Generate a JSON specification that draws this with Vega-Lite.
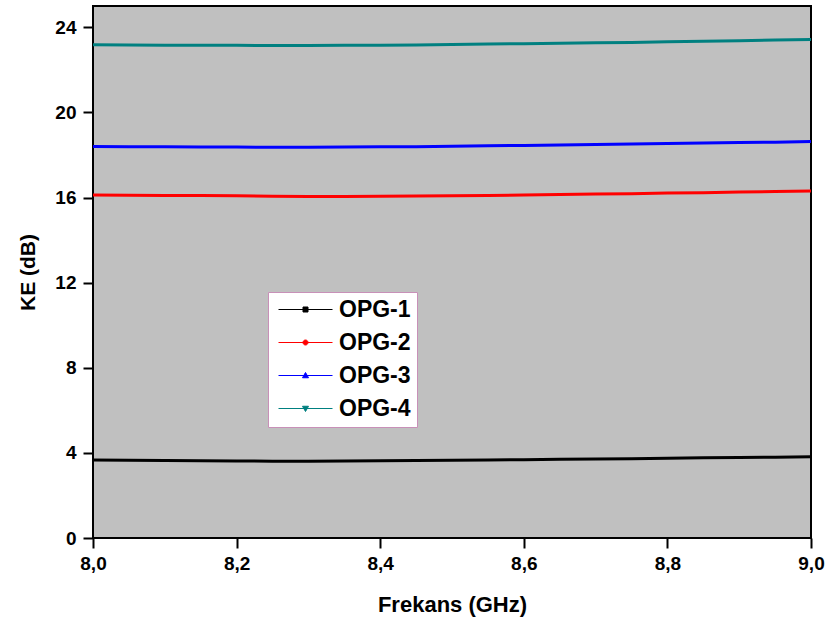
{
  "$schema": "https://vega.github.io/schema/vega-lite/v6.json",
  "width": 718,
  "height": 532,
  "autosize": "none",
  "padding": {"left": 93, "top": 6, "right": 16, "bottom": 88},
  "background": "white",
  "config": {
    "view": {"fill": "#C0C0C0", "stroke": "black", "strokeWidth": 2},
    "font": "Liberation Sans"
  },
  "datasets": {
    "d": [
      {"f": 8.00, "ke": 3.66, "s": "OPG-1"}, {"f": 8.05, "ke": 3.65, "s": "OPG-1"}, {"f": 8.10, "ke": 3.64, "s": "OPG-1"}, {"f": 8.15, "ke": 3.63, "s": "OPG-1"}, {"f": 8.20, "ke": 3.62, "s": "OPG-1"}, {"f": 8.25, "ke": 3.61, "s": "OPG-1"}, {"f": 8.30, "ke": 3.61, "s": "OPG-1"}, {"f": 8.35, "ke": 3.62, "s": "OPG-1"}, {"f": 8.40, "ke": 3.63, "s": "OPG-1"}, {"f": 8.45, "ke": 3.64, "s": "OPG-1"}, {"f": 8.50, "ke": 3.65, "s": "OPG-1"}, {"f": 8.55, "ke": 3.67, "s": "OPG-1"}, {"f": 8.60, "ke": 3.68, "s": "OPG-1"}, {"f": 8.65, "ke": 3.70, "s": "OPG-1"}, {"f": 8.70, "ke": 3.71, "s": "OPG-1"}, {"f": 8.75, "ke": 3.73, "s": "OPG-1"}, {"f": 8.80, "ke": 3.75, "s": "OPG-1"}, {"f": 8.85, "ke": 3.77, "s": "OPG-1"}, {"f": 8.90, "ke": 3.78, "s": "OPG-1"}, {"f": 8.95, "ke": 3.80, "s": "OPG-1"}, {"f": 9.00, "ke": 3.82, "s": "OPG-1"},
      {"f": 8.00, "ke": 16.12, "s": "OPG-2"}, {"f": 8.05, "ke": 16.11, "s": "OPG-2"}, {"f": 8.10, "ke": 16.10, "s": "OPG-2"}, {"f": 8.15, "ke": 16.09, "s": "OPG-2"}, {"f": 8.20, "ke": 16.08, "s": "OPG-2"}, {"f": 8.25, "ke": 16.06, "s": "OPG-2"}, {"f": 8.30, "ke": 16.05, "s": "OPG-2"}, {"f": 8.35, "ke": 16.05, "s": "OPG-2"}, {"f": 8.40, "ke": 16.06, "s": "OPG-2"}, {"f": 8.45, "ke": 16.07, "s": "OPG-2"}, {"f": 8.50, "ke": 16.08, "s": "OPG-2"}, {"f": 8.55, "ke": 16.10, "s": "OPG-2"}, {"f": 8.60, "ke": 16.12, "s": "OPG-2"}, {"f": 8.65, "ke": 16.14, "s": "OPG-2"}, {"f": 8.70, "ke": 16.16, "s": "OPG-2"}, {"f": 8.75, "ke": 16.18, "s": "OPG-2"}, {"f": 8.80, "ke": 16.21, "s": "OPG-2"}, {"f": 8.85, "ke": 16.23, "s": "OPG-2"}, {"f": 8.90, "ke": 16.26, "s": "OPG-2"}, {"f": 8.95, "ke": 16.28, "s": "OPG-2"}, {"f": 9.00, "ke": 16.31, "s": "OPG-2"},
      {"f": 8.00, "ke": 18.40, "s": "OPG-3"}, {"f": 8.05, "ke": 18.39, "s": "OPG-3"}, {"f": 8.10, "ke": 18.38, "s": "OPG-3"}, {"f": 8.15, "ke": 18.37, "s": "OPG-3"}, {"f": 8.20, "ke": 18.37, "s": "OPG-3"}, {"f": 8.25, "ke": 18.36, "s": "OPG-3"}, {"f": 8.30, "ke": 18.36, "s": "OPG-3"}, {"f": 8.35, "ke": 18.37, "s": "OPG-3"}, {"f": 8.40, "ke": 18.38, "s": "OPG-3"}, {"f": 8.45, "ke": 18.39, "s": "OPG-3"}, {"f": 8.50, "ke": 18.41, "s": "OPG-3"}, {"f": 8.55, "ke": 18.43, "s": "OPG-3"}, {"f": 8.60, "ke": 18.45, "s": "OPG-3"}, {"f": 8.65, "ke": 18.47, "s": "OPG-3"}, {"f": 8.70, "ke": 18.49, "s": "OPG-3"}, {"f": 8.75, "ke": 18.51, "s": "OPG-3"}, {"f": 8.80, "ke": 18.54, "s": "OPG-3"}, {"f": 8.85, "ke": 18.56, "s": "OPG-3"}, {"f": 8.90, "ke": 18.58, "s": "OPG-3"}, {"f": 8.95, "ke": 18.60, "s": "OPG-3"}, {"f": 9.00, "ke": 18.63, "s": "OPG-3"},
      {"f": 8.00, "ke": 23.18, "s": "OPG-4"}, {"f": 8.05, "ke": 23.17, "s": "OPG-4"}, {"f": 8.10, "ke": 23.16, "s": "OPG-4"}, {"f": 8.15, "ke": 23.15, "s": "OPG-4"}, {"f": 8.20, "ke": 23.15, "s": "OPG-4"}, {"f": 8.25, "ke": 23.14, "s": "OPG-4"}, {"f": 8.30, "ke": 23.14, "s": "OPG-4"}, {"f": 8.35, "ke": 23.15, "s": "OPG-4"}, {"f": 8.40, "ke": 23.16, "s": "OPG-4"}, {"f": 8.45, "ke": 23.17, "s": "OPG-4"}, {"f": 8.50, "ke": 23.19, "s": "OPG-4"}, {"f": 8.55, "ke": 23.21, "s": "OPG-4"}, {"f": 8.60, "ke": 23.23, "s": "OPG-4"}, {"f": 8.65, "ke": 23.25, "s": "OPG-4"}, {"f": 8.70, "ke": 23.27, "s": "OPG-4"}, {"f": 8.75, "ke": 23.29, "s": "OPG-4"}, {"f": 8.80, "ke": 23.32, "s": "OPG-4"}, {"f": 8.85, "ke": 23.34, "s": "OPG-4"}, {"f": 8.90, "ke": 23.37, "s": "OPG-4"}, {"f": 8.95, "ke": 23.40, "s": "OPG-4"}, {"f": 9.00, "ke": 23.43, "s": "OPG-4"}
    ]
  },
  "data": {"name": "d"},
  "mark": {"type": "line", "strokeWidth": 3, "clip": true},
  "encoding": {
    "x": {
      "field": "f", "type": "quantitative",
      "scale": {"domain": [8, 9], "nice": false, "zero": false},
      "axis": {
        "title": "Frekans (GHz)", "values": [8, 8.2, 8.4, 8.6, 8.8, 9],
        "format": ".1f", "labelExpr": "replace(datum.label, '.', ',')",
        "grid": false, "domain": false, "ticks": true, "tickSize": 10, "tickWidth": 2, "tickColor": "black",
        "labelFont": "Liberation Sans", "labelFontSize": 19, "labelFontWeight": "bold", "labelColor": "black", "labelPadding": 6,
        "labelFlush": false,
        "titleFont": "Liberation Sans", "titleFontSize": 22, "titleFontWeight": "bold", "titleColor": "black", "titlePadding": 21
      }
    },
    "y": {
      "field": "ke", "type": "quantitative",
      "scale": {"domain": [0, 25], "nice": false},
      "axis": {
        "title": "KE (dB)", "values": [0, 4, 8, 12, 16, 20, 24],
        "grid": false, "domain": false, "ticks": true, "tickSize": 10, "tickWidth": 2, "tickColor": "black",
        "labelFont": "Liberation Sans", "labelFontSize": 19, "labelFontWeight": "bold", "labelColor": "black", "labelPadding": 7,
        "labelFlush": false,
        "titleFont": "Liberation Sans", "titleFontSize": 21, "titleFontWeight": "bold", "titleColor": "black", "titlePadding": 16
      }
    },
    "color": {
      "field": "s", "type": "nominal",
      "scale": {"domain": ["OPG-1", "OPG-2", "OPG-3", "OPG-4"], "range": ["#000000", "#FF0000", "#0000FF", "#008080"]},
      "legend": {
        "orient": "none", "legendX": 175, "legendY": 286, "title": null,
        "fillColor": "white", "strokeColor": "#C890B8", "padding": 6,
        "symbolSize": 100, "symbolStrokeWidth": 1, "symbolOffset": 20,
        "labelFont": "Liberation Sans", "labelFontSize": 23, "labelFontWeight": "bold", "labelColor": "black",
        "labelOffset": 22, "rowPadding": 9,
        "encode": {
          "symbols": {
            "update": {
              "shape": {"signal": "datum.value === 'OPG-1' ? 'M-5.4,0H5.4M-0.5,-0.5H0.5V0.5H-0.5Z' : datum.value === 'OPG-2' ? 'M-5.4,0H5.4M-0.5,0A0.5,0.5,0,1,1,0.5,0A0.5,0.5,0,1,1,-0.5,0Z' : datum.value === 'OPG-3' ? 'M-5.4,0H5.4M-0.6,0.45L0.6,0.45L0,-0.6Z' : 'M-5.4,0H5.4M-0.6,-0.45L0.6,-0.45L0,0.6Z'"},
              "fill": {"signal": "scale('color', datum.value)"}
            }
          }
        }
      }
    }
  }
}
